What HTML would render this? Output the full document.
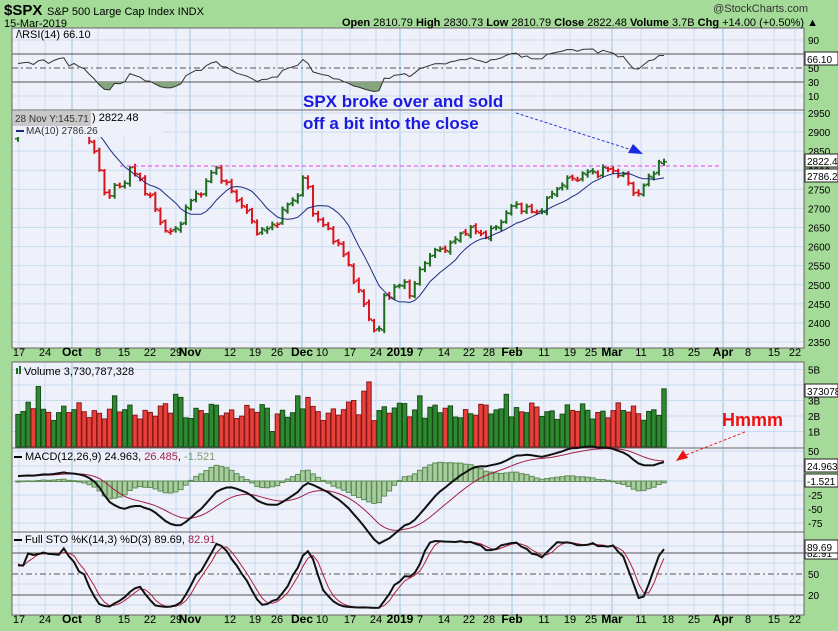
<!DOCTYPE html>
<html><head><meta charset="utf-8">
<style>
html,body{margin:0;padding:0;background:#a5db98;}
svg{display:block;font-family:"Liberation Sans",sans-serif;}
</style></head><body>
<svg id="c" width="838" height="631" xmlns="http://www.w3.org/2000/svg"></svg>
<script>
var S='';
function T(x,y,t,o){o=o||{};S+='<text x="'+x+'" y="'+y+'" font-size="'+(o.s||11)+'" fill="'+(o.c||'#000')+'"'+(o.b?' font-weight="bold"':'')+(o.a?' text-anchor="'+o.a+'"':'')+(o.f?' font-family="'+o.f+'"':'')+'>'+t+'</text>';}
function L(x1,y1,x2,y2,c,w,d){S+='<line x1="'+x1+'" y1="'+y1+'" x2="'+x2+'" y2="'+y2+'" stroke="'+c+'" stroke-width="'+(w||1)+'"'+(d?' stroke-dasharray="'+d+'"':'')+'/>';}
function R(x,y,w,h,f,s){S+='<rect x="'+x+'" y="'+y+'" width="'+w+'" height="'+h+'" fill="'+f+'"'+(s?' stroke="'+s+'"':'')+'/>';}
var X0=12,X1=804;
var panels=[[28,110],[110,348],[362,448],[448,532],[532,615]];
panels.forEach(function(p){R(X0,p[0],X1-X0,p[1]-p[0],'#eff1fa');});
var dl=[[19,'17'],[45,'24'],[72,'Oct',1],[98,'8'],[124,'15'],[150,'22'],[176,'29'],[190,'Nov',1],[230,'12'],[255,'19'],[277,'26'],[302,'Dec',1],[322,'10'],[350,'17'],[376,'24'],[400,'2019',1],[420,'7'],[444,'14'],[469,'22'],[489,'28'],[512,'Feb',1],[544,'11'],[570,'19'],[591,'25'],[612,'Mar',1],[641,'11'],[668,'18'],[694,'25'],[723,'Apr',1],[748,'8'],[774,'15'],[795,'22']];
panels.forEach(function(p){dl.forEach(function(d){L(d[0],p[0],d[0],p[1],d[2]?'#9cc3e0':'#c9dcef',1);});});
for(var p=2350;p<=2950;p+=50){var y=113+(2950-p)*0.3817;L(X0,y,X1,y,'#c9dcef');T(808,y+4,p,{s:10});}
[[90,40],[10,96]].forEach(function(a){L(X0,a[1],X1,a[1],'#c9dcef');T(808,a[1]+4,a[0],{s:10});});
L(X0,54,X1,54,'#555');L(X0,82,X1,82,'#555');L(X0,68,X1,68,'#555',1,'6,3,2,3');T(808,72,'50',{s:10});T(808,86,'30',{s:10});
for(var v=1;v<=5;v++){var y=447-v*15.5;L(X0,y,X1,y,'#c9dcef');if(v!=4)T(808,y+4,v+'B',{s:10});}
[[50,451],[-25,495],[-50,509],[-75,523]].forEach(function(a){L(X0,a[1],X1,a[1],'#c9dcef');T(808,a[1]+4,a[0],{s:10});});
L(X0,466,X1,466,'#c9dcef');L(X0,481,X1,481,'#c9dcef');
L(X0,553,X1,553,'#555');L(X0,595,X1,595,'#555');L(X0,574,X1,574,'#555',1,'6,3,2,3');T(808,578,'50',{s:10});T(808,599,'20',{s:10});
[546,563,584,605].forEach(function(y){L(X0,y,X1,y,'#c9dcef');});
panels.forEach(function(p){S+='<rect x="'+X0+'" y="'+p[0]+'" width="'+(X1-X0)+'" height="'+(p[1]-p[0])+'" fill="none" stroke="#666"/>';});
[356,623].forEach(function(y){dl.forEach(function(d){T(d[0],y,d[1],{s:d[2]?12:11,b:d[2],a:'middle'});});});
var K=[[-230,2830],[-100,2880],[18,2895],[30,2905],[45,2910],[60,2925],[72,2915],[90,2885],[100,2790],[107,2720],[113,2760],[120,2750],[130,2805],[138,2780],[150,2730],[160,2665],[170,2635],[178,2645],[185,2700],[195,2730],[205,2760],[215,2810],[222,2780],[232,2740],[245,2700],[255,2645],[265,2640],[275,2660],[285,2700],[298,2740],[305,2790],[312,2700],[320,2660],[330,2640],[340,2595],[350,2545],[360,2470],[370,2410],[378,2355],[383,2465],[395,2490],[405,2505],[412,2470],[420,2540],[430,2580],[440,2590],[455,2615],[465,2645],[475,2640],[485,2630],[495,2645],[505,2685],[515,2710],[525,2700],[535,2685],[545,2710],[555,2750],[565,2770],[575,2780],[590,2795],[600,2795],[610,2805],[620,2790],[630,2762],[637,2732],[643,2752],[650,2790],[657,2810],[664,2822]];
function ip(x){for(var i=0;i<K.length-1;i++){if(x<=K[i+1][0]){var t=(x-K[i][0])/(K[i+1][0]-K[i][0]);return K[i][1]+t*(K[i+1][1]-K[i][1]);}}return K[K.length-1][1];}
var st=(664-18)/127,B=[];
for(var i=-45;i<=127;i++){var x=18+i*st;var c=ip(x)+7*Math.sin(i*1.7)+5*Math.sin(i*2.9+1);if(i==127)c=2822.48;var pc=B.length?B[B.length-1].c:c;var o=pc+4*Math.sin(i*3.3);var h=Math.max(o,c)+4+4*Math.abs(Math.sin(i*1.3));var l=Math.min(o,c)-4-4*Math.abs(Math.cos(i*0.7));B.push({x:x,o:o,c:c,h:h,l:l,up:c>=pc});}
var n=B.length,C=B.map(function(b){return b.c;});
function ema(a,p){var k=2/(p+1),r=[a[0]];for(var i=1;i<a.length;i++)r.push(a[i]*k+r[i-1]*(1-k));return r;}
var e12=ema(C,12),e26=ema(C,26),M=C.map(function(_,i){return e12[i]-e26[i];}),SG=ema(M,9);
var ma=[];for(var i=0;i<n;i++){var s=0,m=0;for(var j=Math.max(0,i-9);j<=i;j++){s+=C[j];m++;}ma.push(s/m);}
var rsi=[50],ag=0,al=0;for(var i=1;i<n;i++){var d=C[i]-C[i-1];ag=(ag*13+Math.max(d,0))/14;al=(al*13+Math.max(-d,0))/14;rsi.push(al==0?50:100-100/(1+ag/al));}
var raw=[];for(var i=0;i<n;i++){var hh=-1e9,ll=1e9;for(var j=Math.max(0,i-13);j<=i;j++){hh=Math.max(hh,B[j].h);ll=Math.min(ll,B[j].l);}raw.push(100*(C[i]-ll)/(hh-ll||1));}
function sma(a,p){return a.map(function(_,i){var s=0,m=0;for(var j=Math.max(0,i-p+1);j<=i;j++){s+=a[j];m++;}return s/m;});}
var sk=sma(raw,3),sd=sma(sk,3);
function py(p){return 113+(2950-p)*0.3817;}
function poly(arr,f,col,w){var pts=[];for(var i=0;i<n;i++){if(B[i].x<X0+2)continue;pts.push(B[i].x.toFixed(1)+','+f(arr[i]).toFixed(1));}S+='<polyline points="'+pts.join(' ')+'" fill="none" stroke="'+col+'" stroke-width="'+(w||1)+'"/>';}
S+='<clipPath id="rc"><rect x="12" y="82" width="792" height="30"/></clipPath>';
var rp=[];for(var i=0;i<n;i++)if(B[i].x>=14)rp.push(B[i].x.toFixed(1)+','+(68-(rsi[i]-50)*0.7).toFixed(1));
S+='<polygon clip-path="url(#rc)" points="14,82 '+rp.join(' ')+' 664,82" fill="#86a47e"/>';
poly(rsi,function(r){return 68-(r-50)*0.7;},'#333',1);
for(var i=0;i<n;i++){var b=B[i];if(b.x<14)continue;var col=b.up?'#1d6b1d':'#d8141a';L(b.x,py(b.h),b.x,py(b.l),col,2);L(b.x-3,py(b.o),b.x,py(b.o),col,1.5);L(b.x,py(b.c),b.x+3,py(b.c),col,1.5);}
poly(ma,py,'#1a2a80',1);
L(120,166,720,166,'#e040e0',1,'4,3');
function vol(x,i){var v=2.3+0.35*Math.sin(i*1.9)+0.25*Math.sin(i*0.7);var sp=[[40,3.9],[115,3.3],[175,3.4],[180,3.2],[297,3.3],[310,3.2],[355,3.0],[362,3.6],[368,4.2],[372,5.5],[376,1.7],[273,1.0],[508,3.4],[664,3.75],[405,2.8],[418,3.3]];sp.forEach(function(s){if(Math.abs(s[0]-x)<2.6)v=s[1];});return v;}
for(var i=0;i<n;i++){var b=B[i];if(b.x<14)continue;var v=vol(b.x,i);R(b.x-2.2,447-v*15.5,4.4,v*15.5,b.up?'#2e8a30':'#e8403a',b.up?'#1a4d1a':'#8a1a1a');}
var MS=0.59*1.3;
for(var i=0;i<n;i++){var b=B[i];if(b.x<14)continue;var hv=(M[i]-SG[i])*1.4;var y=481-hv*0.59;R(b.x-2.3,Math.min(y,481),4.6,Math.abs(481-y)+0.5,'#a9cc9f','#5e8d58');}
poly(SG,function(m){return 481-m*MS;},'#a0204a',1);
poly(M,function(m){return 481-m*MS;},'#111',2);
poly(sd,function(s){return 574-(s-50)*0.7;},'#b02040',1);
poly(sk,function(s){return 574-(s-50)*0.7;},'#111',2);
T(4,15,'$SPX',{s:15,b:1});T(47,15,'S&amp;P 500 Large Cap Index  INDX',{s:11});
T(4,27,'15-Mar-2019',{s:11});
T(808,12,'@StockCharts.com',{s:11,a:'end',c:'#333'});
S+='<text x="818" y="26" font-size="11" text-anchor="end"><tspan font-weight="bold">Open</tspan> 2810.79 <tspan font-weight="bold">High</tspan> 2830.73 <tspan font-weight="bold">Low</tspan> 2810.79 <tspan font-weight="bold">Close</tspan> 2822.48 <tspan font-weight="bold">Volume</tspan> 3.7B <tspan font-weight="bold">Chg</tspan> +14.00 (+0.50%) ▲</text>';
T(16,38,'/\\RSI(14) 66.10',{s:11});
R(13,111,150,26,'#eff1fa');
R(13,111,78,15,'#c8c8c8');T(15,122,'28 Nov Y:145.71',{s:10,c:'#333'});T(92,121,') 2822.48',{s:11});
L(16,131,24,131,'#1a2a80',2);T(26,134,'MA(10) 2786.26',{s:10,c:'#333'});
S+='<rect x="16" y="368" width="2" height="6" fill="#1d6b1d"/><rect x="19" y="366" width="2" height="8" fill="#1d6b1d"/>';T(24,375,'Volume 3,730,787,328',{s:11});
L(14,457,22,457,'#000',2);S+='<text x="25" y="460" font-size="11">MACD(12,26,9) 24.963, <tspan fill="#a0204a">26.485</tspan>, <tspan fill="#7a9a70">-1.521</tspan></text>';
L(14,540,22,540,'#000',2);S+='<text x="25" y="543" font-size="11">Full STO %K(14,3) %D(3) 89.69, <tspan fill="#a0204a">82.91</tspan></text>';
function BX(y,t){R(805,y-7,33,13,'#fff','#222');T(807,y+4,t,{s:10});}
BX(59,'66.10');BX(176,'2786.2');BX(161,'2822.4');BX(391,'373078');BX(466,'24.963');BX(481,'-1.521');BX(553,'82.91');BX(547,'89.69');
T(303,107,'SPX broke over and sold',{s:17,b:1,c:'#1a1ae0'});
T(303,129,'off a bit into the close',{s:17,b:1,c:'#1a1ae0'});
L(516,113,632,150,'#2a3ad8',1,'3,2');S+='<polygon points="643,154 628,153 633,144" fill="#1a2ae0"/>';
T(722,426,'Hmmm',{s:18,b:1,c:'#ee1111'});
L(745,432,686,455,'#ee2222',1,'3,2');S+='<polygon points="676,461 683,450 688,458" fill="#ee1111"/>';
document.getElementById('c').innerHTML=S;
</script>
</body></html>
